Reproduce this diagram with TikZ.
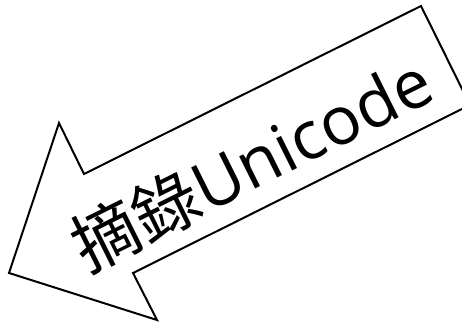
\documentclass[tikz,border=0pt]{standalone}
\usepackage{fontspec}
\setmainfont{Open Sans}
\newfontfamily\cjk{Noto Sans CJK TC}
\begin{document}
\begin{tikzpicture}[x=1pt,y=-1pt,
  arrowshape/.style={draw=black,line width=2pt,fill=white,line join=miter},
  label/.style={font=\fontsize{67}{67}\selectfont,inner sep=0pt,rotate=26.5}]
\useasboundingbox (0,0) rectangle (462,324);
\clip (0,0) rectangle (462,324);
\draw[arrowshape] (9,273) -- (59,123) -- (84,174) -- (421,6) -- (470,105) -- (133,273) -- (157,320) -- cycle;
\node[label] (t) at (251,163) {{\cjk 摘錄}Unicode};
\end{tikzpicture}
\end{document}
